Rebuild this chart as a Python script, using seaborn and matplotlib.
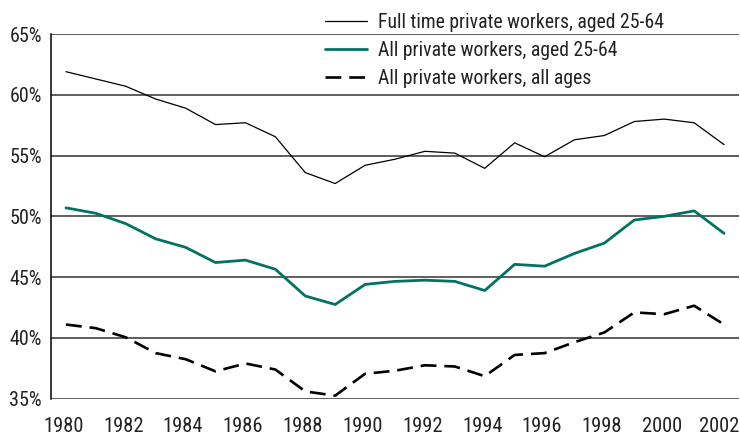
import matplotlib
matplotlib.use("Agg")
import matplotlib.pyplot as plt
import matplotlib.transforms as mtransforms
import seaborn as sns
import pandas as pd
import numpy as np
from matplotlib.ticker import FixedLocator, FuncFormatter

years = list(range(1980, 2003))
full_time_25_64 = [61.9, 61.3, 60.7, 59.65, 58.9, 57.55, 57.7, 56.55, 53.6, 52.7, 54.2,
                   54.7, 55.35, 55.2, 53.95, 56.05, 54.9, 56.3, 56.65, 57.8, 58.0, 57.7, 55.9]
all_25_64 = [50.7, 50.25, 49.4, 48.15, 47.45, 46.2, 46.4, 45.65, 43.45, 42.75, 44.4,
             44.65, 44.75, 44.65, 43.9, 46.05, 45.9, 46.95, 47.8, 49.7, 50.0, 50.45, 48.6]
all_all_ages = [41.1, 40.8, 40.05, 38.75, 38.25, 37.25, 37.9, 37.4, 35.6, 35.25, 37.05,
                37.3, 37.75, 37.65, 36.85, 38.6, 38.75, 39.65, 40.45, 42.1, 41.95, 42.65, 41.1]
labels = ["Full time private workers, aged 25-64",
          "All private workers, aged 25-64",
          "All private workers, all ages"]
y_ticks = [35, 40, 45, 50, 55, 60, 65]
x_label_years = list(range(1980, 2003, 2))

sns.set_style("white")
plt.rcParams['font.family'] = ['Roboto Condensed', 'PT Sans Narrow', 'Archivo Narrow',
                               'IBM Plex Sans Condensed', 'DejaVu Sans']

df = pd.DataFrame({"year": years, labels[0]: full_time_25_64,
                   labels[1]: all_25_64, labels[2]: all_all_ages})

fig = plt.figure(figsize=(7.4, 4.37), dpi=100)
ax = fig.add_axes([51/740, 1 - 398.7/437, 688/740, (398.7 - 34)/437])

teal = "#007363"
sns.lineplot(data=df, x="year", y=labels[0], ax=ax, color="black", lw=0.9, label=labels[0])
sns.lineplot(data=df, x="year", y=labels[1], ax=ax, color=teal, lw=2.0, label=labels[1])
sns.lineplot(data=df, x="year", y=labels[2], ax=ax, color="black", lw=1.9, label=labels[2])
ax.lines[-1].set_dashes([6, 3])

ax.set_xlim(1979.5, 2002.5)
ax.set_ylim(35, 65)
ax.set_xlabel("")
ax.set_ylabel("")

ax.set_yticks(y_ticks)
ax.yaxis.set_major_formatter(FuncFormatter(lambda v, p: f"{int(v)}%"))
ax.tick_params(axis="y", length=0, pad=6.5, labelsize=14.5, colors="#222222")
for v in y_ticks:
    ax.axhline(v, color="#333333", lw=1.1, zorder=0.5)

ax.set_xticks(x_label_years)
ax.xaxis.set_minor_locator(FixedLocator(np.arange(1979.5, 2003, 1)))
ax.tick_params(axis="x", which="major", length=0, pad=13, labelsize=14.8, colors="#222222")
ax.tick_params(axis="x", which="minor", length=5, width=1.0, direction="out", color="#333333")
xlbls = ax.get_xticklabels()
for i, lbl in enumerate(xlbls):
    dx = -2.5 if i < len(xlbls) - 1 else -5.0
    lbl.set_transform(lbl.get_transform() +
                      mtransforms.ScaledTranslation(dx/100, 0, fig.dpi_scale_trans))

for s in ["top", "right", "bottom"]:
    ax.spines[s].set_visible(False)
ax.spines["left"].set_color("black")
ax.spines["left"].set_linewidth(1.1)
ax.spines["left"].set_bounds(35, 65)

leg = ax.legend(loc="upper left", bbox_to_anchor=(325/740, 1 - 12.5/437),
                bbox_transform=fig.transFigure, frameon=False, fontsize=14.2,
                handlelength=2.13, handletextpad=0.56, labelspacing=0.47, borderpad=0,
                borderaxespad=0)
leg.get_lines()[-1].set_dashes([6, 3])
for t in leg.get_texts():
    t.set_color("#222222")

fig.savefig("out.png", dpi=100)
